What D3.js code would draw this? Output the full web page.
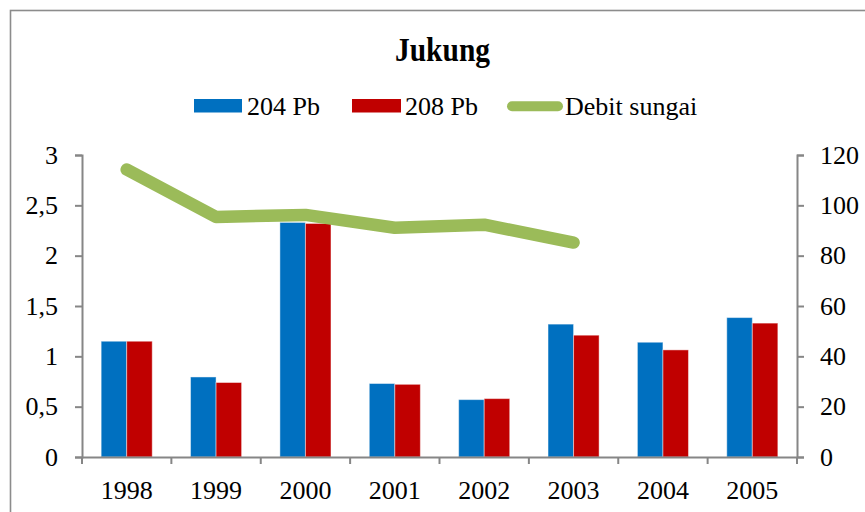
<!DOCTYPE html>
<html>
<head>
<meta charset="utf-8">
<script src="https://cdn.jsdelivr.net/npm/d3@7"></script>
<style>
  html, body { margin: 0; padding: 0; background: #fff; }
  svg { display: block; }
</style>
</head>
<body>
<svg id="chart" width="865" height="512"></svg>
<script>
const categories = ["1998", "1999", "2000", "2001", "2002", "2003", "2004", "2005"];
const pb204 = [1.15, 0.795, 2.33, 0.73, 0.57, 1.32, 1.14, 1.385];
const pb208 = [1.15, 0.74, 2.32, 0.722, 0.58, 1.21, 1.064, 1.33];
const debit = [114.2, 95.4, 96.2, 91.1, 92.3, 85.2, null, null];
const leftTicks = [0, 0.5, 1, 1.5, 2, 2.5, 3];
const rightTicks = [0, 20, 40, 60, 80, 100, 120];
const seriesNames = ["204 Pb", "208 Pb", "Debit sungai"];
const colors = { "204 Pb": "#0070C0", "208 Pb": "#C00000", "Debit sungai": "#9BBB59" };
const title = "Jukung";

const svg = d3.select("#chart");
const FONT = "'Liberation Serif', 'Times New Roman', serif";
const axisColor = "#868686";

const m = { left: 82, right: 797, top: 155, bottom: 457 };

// outer chart border
svg.append("rect")
  .attr("x", 10.5).attr("y", 10.5)
  .attr("width", 900).attr("height", 600)
  .attr("fill", "#fff").attr("stroke", "#8c8c8c").attr("stroke-width", 1.6);

const x = d3.scaleBand().domain(categories).range([m.left, m.right]).padding(0);
const xs = d3.scaleBand().domain(["204 Pb", "208 Pb"]).range([0, x.bandwidth()])
  .paddingInner(0).paddingOuter(0.75);
const yL = d3.scaleLinear().domain([0, 3]).range([m.bottom, m.top]);
const yR = d3.scaleLinear().domain([0, 120]).range([m.bottom, m.top]);

const fmt = d => String(d).replace(".", ",");

// title
svg.append("text")
  .attr("x", 442.5).attr("y", 61)
  .attr("text-anchor", "middle")
  .attr("font-family", FONT).attr("font-weight", "bold")
  .attr("font-size", 33)
  .attr("textLength", 95).attr("lengthAdjust", "spacingAndGlyphs")
  .attr("fill", "#000")
  .text(title);

// bars
const barData = [];
categories.forEach((c, i) => {
  barData.push({ cat: c, s: "204 Pb", v: pb204[i] });
  barData.push({ cat: c, s: "208 Pb", v: pb208[i] });
});
svg.append("g").selectAll("rect").data(barData).join("rect")
  .attr("x", d => x(d.cat) + xs(d.s))
  .attr("y", d => yL(d.v))
  .attr("width", xs.bandwidth())
  .attr("height", d => yL(0) - yL(d.v))
  .attr("fill", d => colors[d.s])
  .attr("stroke", "rgba(255,255,255,0.45)")
  .attr("stroke-width", 1);

// axes
function styleAxis(g) {
  g.selectAll(".domain").attr("stroke", axisColor).attr("stroke-width", 2);
  g.selectAll(".tick line").attr("stroke", axisColor).attr("stroke-width", 2);
  g.selectAll("text").attr("font-family", FONT).attr("font-size", 26).attr("fill", "#000");
}

const gL = svg.append("g").attr("transform", `translate(${m.left},0)`)
  .call(d3.axisLeft(yL).tickValues(leftTicks).tickFormat(fmt).tickSize(7).tickSizeOuter(7).tickPadding(17));
styleAxis(gL);
gL.selectAll("text").attr("dy", "0.32em");

const gR = svg.append("g").attr("transform", `translate(${m.right},0)`)
  .call(d3.axisRight(yR).tickValues(rightTicks).tickFormat(d3.format("d")).tickSize(7).tickSizeOuter(7).tickPadding(16));
styleAxis(gR);
gR.selectAll("text").attr("dy", "0.32em");

// x axis: labels at band centres, ticks at band boundaries
const gX = svg.append("g").attr("transform", `translate(0,${m.bottom})`)
  .call(d3.axisBottom(x).tickSize(0).tickSizeOuter(0).tickPadding(24));
styleAxis(gX);
gX.selectAll("text").attr("dy", "0.71em");
const boundaries = categories.map(c => x(c)).concat([x(categories[categories.length - 1]) + x.step()]);
gX.selectAll(".bound").data(boundaries).join("line")
  .attr("class", "bound")
  .attr("x1", d => d).attr("x2", d => d)
  .attr("y1", 0).attr("y2", 7)
  .attr("stroke", axisColor).attr("stroke-width", 2);

// line
const lineGen = d3.line()
  .defined(d => d.v !== null)
  .x(d => x(d.cat) + x.bandwidth() / 2)
  .y(d => yR(d.v));
svg.append("path")
  .datum(categories.map((c, i) => ({ cat: c, v: debit[i] })))
  .attr("d", lineGen)
  .attr("fill", "none")
  .attr("stroke", colors["Debit sungai"])
  .attr("stroke-width", 12.5)
  .attr("stroke-linecap", "round")
  .attr("stroke-linejoin", "round");

// legend
const legend = svg.append("g").attr("font-family", FONT).attr("font-size", 26);
const legItems = [
  { s: "204 Pb", x0: 194, x1: 242, tx: 247 },
  { s: "208 Pb", x0: 352, x1: 401, tx: 405 },
  { s: "Debit sungai", x0: 512, x1: 558, tx: 565 }
];
legItems.forEach(it => {
  if (it.s === "Debit sungai") {
    legend.append("line")
      .attr("x1", it.x0).attr("x2", it.x1).attr("y1", 106.3).attr("y2", 106.3)
      .attr("stroke", colors[it.s]).attr("stroke-width", 10).attr("stroke-linecap", "round");
  } else {
    legend.append("rect")
      .attr("x", it.x0).attr("y", 99).attr("width", it.x1 - it.x0).attr("height", 13.5)
      .attr("fill", colors[it.s]);
  }
  legend.append("text").attr("x", it.tx).attr("y", 114.7).attr("fill", "#000").text(it.s);
});
</script>
</body>
</html>
